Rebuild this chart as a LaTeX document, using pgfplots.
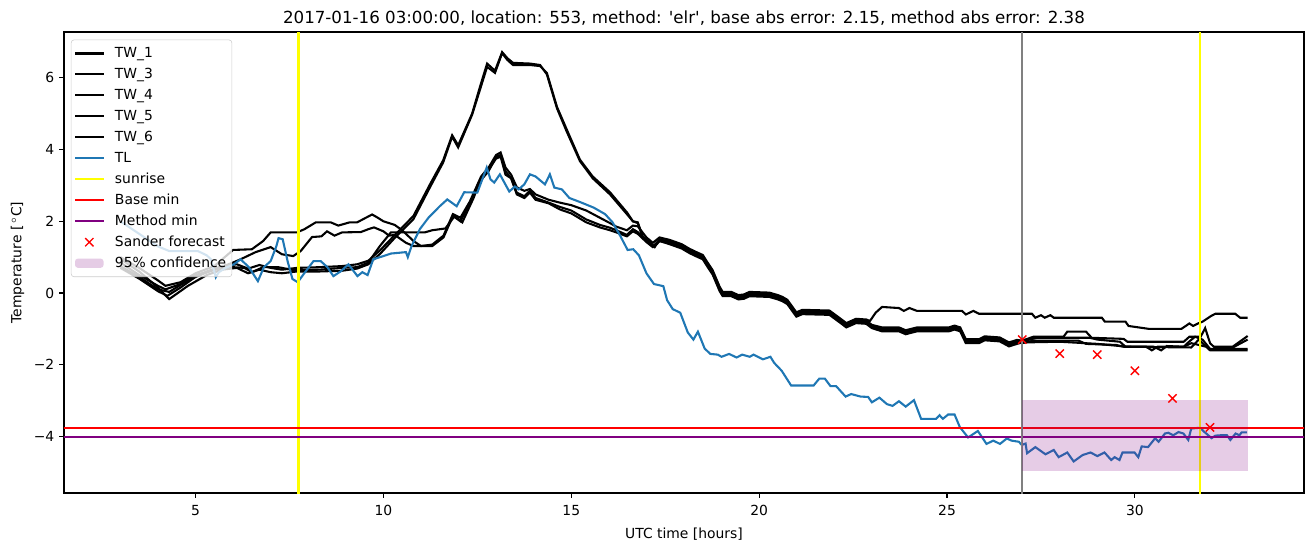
\documentclass[border=0pt]{standalone}
\usepackage{fontspec}
\setmainfont{DejaVu Sans}
\usepackage{pgfplots}
\pgfplotsset{compat=1.18}
\definecolor{tabblue}{RGB}{31,119,180}
\definecolor{myyellow}{RGB}{255,255,0}
\definecolor{myred}{RGB}{255,0,0}
\definecolor{mypurple}{RGB}{128,0,128}
\definecolor{mygray}{RGB}{128,128,128}
\definecolor{legendgray}{RGB}{204,204,204}
\pgfplotsset{
  mylinelegend/.style={legend image code/.code={\draw[mark repeat=2,mark phase=2,##1] plot coordinates {(0pt,0pt) (10.25pt,0pt) (20.5pt,0pt)};}},
  myarealegend/.style={legend image code/.code={\fill[##1] (0pt,-3.3pt) rectangle (20.5pt,3.3pt);}},
}
\begin{document}
\begin{tikzpicture}
\path[use as bounding box] (-46.08pt,-38.88pt) rectangle (899.28pt,354.96pt);
\begin{axis}[
  at={(0,0)}, anchor=south west,
  width=892.8pt, height=331.9pt, scale only axis,
  xmin=1.5, xmax=34.5, ymin=-5.58, ymax=7.28,
  axis line style={line width=0.8pt},
  tick align=outside, major tick length=3.5pt,
  every tick/.style={line width=0.8pt, black},
  xtick pos=bottom, ytick pos=left,
  xtick={5,10,15,20,25,30},
  ytick={-4,-2,0,2,4,6},
  yticklabels={−4,−2,0,2,4,6},
  /pgf/number format/assume math mode=true,
  tick label style={font=\fontsize{10}{12}\selectfont},
  xticklabel style={yshift=-2pt},
  xlabel={UTC time [hours]},
  ylabel={Temperature [\,$^\circ$C]},
  label style={font=\fontsize{10}{12}\selectfont},
  xlabel style={yshift=-1.5pt},
  title={2017-01-16 03:00:00, location: 553, method: \textquotesingle elr\textquotesingle, base abs error: 2.15, method abs error: 2.38},
  title style={font=\fontsize{12}{14}\selectfont, yshift=-4.5pt},
  legend cell align=left,
  mylinelegend,
  legend style={at={(0,1)}, anchor=north west, xshift=5pt, yshift=-5.5pt,
    draw=legendgray, fill=white, fill opacity=0.8, text opacity=1, rounded corners=2pt,
    font=\fontsize{10}{12}\selectfont, row sep=1.6pt, column sep=5.5pt, inner xsep=2pt, inner ysep=3pt,
    nodes={inner sep=2pt, text height=7.5pt, text depth=2pt}},
  every axis plot/.append style={line width=1.5pt},
]
% TW_1
\addplot[black] coordinates {(3.0,1.0)(3.5,0.7)(4.0,0.35)(4.2,0.2)(4.6,0.3)(5.0,0.55)(5.5,0.75)(6.0,1.2)(6.5,1.22)(6.8,1.45)(7.0,1.69)(7.7,1.69)(7.9,1.78)(8.2,1.97)(8.6,1.97)(8.8,1.88)(9.1,1.97)(9.3,1.97)(9.7,2.19)(9.85,2.1)(10.0,2.0)(10.3,1.9)(10.5,1.75)(10.8,1.45)(11.0,1.31)(11.3,1.35)(11.6,1.6)(11.85,2.2)(12.05,2.1)(12.3,2.55)(12.6,3.25)(12.8,3.5)(13.0,3.85)(13.12,3.92)(13.25,3.5)(13.4,3.3)(13.55,2.95)(13.75,2.85)(13.9,2.9)(14.05,2.75)(14.4,2.6)(14.7,2.52)(15.0,2.45)(15.4,2.3)(15.76,2.1)(16.03,1.95)(16.2,1.85)(16.48,1.75)(16.64,1.88)(16.77,1.86)(17.0,1.55)(17.17,1.4)(17.35,1.55)(17.62,1.48)(17.94,1.36)(18.15,1.23)(18.33,1.14)(18.5,1.06)(18.62,0.86)(18.76,0.64)(18.95,0.17)(19.03,0.03)(19.26,0.03)(19.45,-0.06)(19.6,-0.04)(19.74,0.03)(20.27,0.01)(20.5,-0.06)(20.62,-0.11)(20.75,-0.19)(20.99,-0.54)(21.15,-0.47)(21.87,-0.49)(22.13,-0.69)(22.32,-0.84)(22.58,-0.72)(22.85,-0.74)(22.95,-0.78)(23.1,-0.55)(23.27,-0.39)(23.72,-0.42)(23.85,-0.5)(24.0,-0.42)(24.2,-0.5)(25.4,-0.5)(25.5,-0.6)(25.7,-0.5)(25.85,-0.58)(27.26,-0.58)(27.35,-0.69)(27.5,-0.62)(27.6,-0.69)(27.75,-0.62)(27.84,-0.69)(29.12,-0.69)(29.2,-0.8)(29.75,-0.8)(29.83,-0.92)(30.36,-1.0)(31.24,-1.0)(31.45,-0.85)(31.55,-0.92)(31.68,-0.85)(31.8,-0.8)(32.03,-0.64)(32.14,-0.58)(32.67,-0.58)(32.8,-0.69)(33.0,-0.69)};
\addlegendentry{TW\_1}
% TW_3
\addplot[black] coordinates {(3.0,0.85)(3.5,0.5)(4.0,0.2)(4.2,0.1)(4.6,0.25)(5.0,0.5)(5.5,0.65)(6.0,0.85)(6.2,0.94)(6.6,1.14)(7.0,1.28)(7.3,1.08)(7.6,1.03)(7.8,1.17)(8.1,1.56)(8.35,1.58)(8.5,1.72)(8.7,1.6)(8.9,1.69)(9.4,1.7)(9.6,1.78)(9.75,1.83)(10.0,1.72)(10.15,1.6)(10.3,1.62)(10.6,1.4)(10.8,1.31)(11.3,1.31)(11.6,1.55)(11.85,2.15)(12.05,2.0)(12.3,2.5)(12.6,3.15)(12.8,3.4)(13.0,3.8)(13.12,3.85)(13.25,3.4)(13.4,3.2)(13.55,2.8)(13.75,2.7)(13.9,2.85)(14.05,2.65)(14.4,2.52)(14.7,2.4)(15.0,2.3)(15.4,2.05)(15.76,1.9)(16.03,1.82)(16.2,1.75)(16.48,1.62)(16.64,1.78)(16.77,1.7)(17.0,1.45)(17.17,1.3)(17.35,1.48)(17.62,1.45)(17.94,1.33)(18.15,1.2)(18.33,1.11)(18.5,1.03)(18.62,0.83)(18.76,0.61)(18.95,0.14)(19.03,0.0)(19.26,0.0)(19.45,-0.09)(19.6,-0.07)(19.74,0.0)(20.27,-0.02)(20.5,-0.09)(20.62,-0.14)(20.75,-0.22)(20.99,-0.57)(21.15,-0.5)(21.87,-0.52)(22.13,-0.72)(22.32,-0.87)(22.58,-0.75)(22.85,-0.77)(23.0,-0.89)(23.27,-0.96)(23.72,-0.96)(23.9,-1.04)(24.2,-0.96)(25.05,-0.96)(25.2,-0.91)(25.35,-0.96)(25.5,-1.29)(25.85,-1.29)(26.0,-1.21)(26.4,-1.24)(26.65,-1.38)(26.86,-1.31)(27.0,-1.33)(27.3,-1.22)(28.1,-1.22)(28.2,-1.08)(28.7,-1.08)(28.85,-1.25)(29.7,-1.28)(29.8,-1.36)(31.3,-1.36)(31.45,-1.22)(31.75,-1.22)(31.87,-0.98)(32.0,-1.4)(32.1,-1.5)(32.6,-1.5)(33.0,-1.2)};
\addlegendentry{TW\_3}
% TW_4
\addplot[black] coordinates {(3.0,0.7)(3.5,0.4)(4.0,0.05)(4.25,-0.08)(4.6,0.15)(5.0,0.45)(5.5,0.65)(6.0,0.72)(6.3,0.7)(6.5,0.58)(6.8,0.72)(7.2,0.72)(7.6,0.64)(8.3,0.65)(8.9,0.7)(9.3,0.72)(9.6,0.85)(9.9,1.3)(10.2,1.69)(11.1,1.69)(11.3,1.75)(11.65,1.8)(11.9,2.15)(12.1,1.97)(12.4,2.65)(12.6,3.2)(12.8,3.44)(13.0,3.75)(13.12,3.8)(13.25,3.3)(13.4,3.2)(13.55,2.75)(13.75,2.65)(13.9,2.8)(14.05,2.6)(14.4,2.5)(14.7,2.33)(15.0,2.22)(15.4,1.97)(15.76,1.83)(16.03,1.75)(16.2,1.69)(16.48,1.58)(16.64,1.72)(16.77,1.65)(17.0,1.42)(17.17,1.28)(17.35,1.45)(17.62,1.39)(17.94,1.27)(18.15,1.14)(18.33,1.05)(18.5,0.97)(18.62,0.77)(18.76,0.55)(18.95,0.08)(19.03,-0.06)(19.26,-0.06)(19.45,-0.15)(19.6,-0.13)(19.74,-0.06)(20.27,-0.08)(20.5,-0.15)(20.62,-0.2)(20.75,-0.28)(20.99,-0.63)(21.15,-0.56)(21.87,-0.58)(22.13,-0.78)(22.32,-0.93)(22.58,-0.81)(22.85,-0.83)(23.0,-0.95)(23.27,-1.03)(23.72,-1.03)(23.9,-1.11)(24.2,-1.03)(25.05,-1.03)(25.2,-0.98)(25.35,-1.03)(25.5,-1.36)(25.85,-1.36)(26.0,-1.28)(26.4,-1.31)(26.65,-1.45)(26.86,-1.38)(27.0,-1.35)(27.4,-1.25)(28.8,-1.25)(29.0,-1.3)(29.6,-1.36)(29.75,-1.5)(30.5,-1.5)(30.7,-1.6)(30.85,-1.48)(31.3,-1.5)(31.45,-1.35)(31.6,-1.22)(31.8,-1.3)(32.0,-1.56)(33.0,-1.56)};
\addlegendentry{TW\_4}
% TW_5
\addplot[black] coordinates {(3.0,0.95)(3.5,0.6)(4.0,0.15)(4.3,-0.17)(4.8,0.2)(5.3,0.5)(5.7,0.65)(6.1,0.7)(6.4,0.55)(6.7,0.65)(7.0,0.58)(7.3,0.55)(7.7,0.6)(8.3,0.6)(8.9,0.62)(9.3,0.68)(9.6,0.8)(9.92,1.1)(10.27,1.5)(10.8,2.06)(11.25,2.97)(11.59,3.64)(11.83,4.36)(11.99,4.06)(12.36,4.97)(12.57,5.67)(12.76,6.31)(12.97,6.14)(13.16,6.69)(13.3,6.5)(13.45,6.36)(13.9,6.36)(14.17,6.33)(14.35,6.14)(14.62,5.19)(14.88,4.56)(15.23,3.72)(15.57,3.25)(16.03,2.81)(16.48,2.25)(16.64,2.0)(16.77,1.97)(16.9,1.58)(17.1,1.4)(17.22,1.28)(17.35,1.5)(17.62,1.42)(17.94,1.3)(18.15,1.17)(18.33,1.08)(18.5,1.0)(18.62,0.8)(18.76,0.58)(18.95,0.11)(19.03,-0.03)(19.26,-0.03)(19.45,-0.12)(19.6,-0.1)(19.74,-0.03)(20.27,-0.05)(20.5,-0.12)(20.62,-0.17)(20.75,-0.25)(20.99,-0.6)(21.15,-0.53)(21.87,-0.55)(22.13,-0.75)(22.32,-0.9)(22.58,-0.78)(22.85,-0.8)(23.0,-0.92)(23.27,-1.0)(23.72,-1.0)(23.9,-1.08)(24.2,-1.0)(25.05,-1.0)(25.2,-0.95)(25.35,-1.0)(25.5,-1.33)(25.85,-1.33)(26.0,-1.25)(26.4,-1.28)(26.65,-1.42)(26.86,-1.35)(27.0,-1.4)(27.3,-1.33)(28.5,-1.33)(28.7,-1.42)(29.5,-1.45)(29.7,-1.5)(30.3,-1.5)(30.45,-1.6)(30.6,-1.5)(31.3,-1.5)(31.5,-1.4)(31.9,-1.5)(32.0,-1.6)(33.0,-1.6)};
\addlegendentry{TW\_5}
% TW_6
\addplot[black] coordinates {(3.0,0.75)(3.5,0.45)(4.0,0.1)(4.3,0.03)(4.8,0.35)(5.3,0.6)(5.7,0.75)(6.1,0.8)(6.4,0.68)(6.7,0.78)(7.0,0.7)(7.3,0.65)(7.7,0.7)(8.3,0.72)(8.9,0.75)(9.3,0.8)(9.6,0.9)(9.92,1.2)(10.27,1.58)(10.8,2.15)(11.25,3.05)(11.59,3.7)(11.83,4.4)(11.99,4.12)(12.36,5.0)(12.57,5.75)(12.76,6.4)(12.97,6.2)(13.16,6.72)(13.3,6.55)(13.45,6.42)(13.9,6.4)(14.17,6.36)(14.35,6.1)(14.62,5.15)(14.88,4.5)(15.23,3.68)(15.57,3.2)(16.03,2.75)(16.48,2.2)(16.64,2.0)(16.77,1.95)(16.9,1.55)(17.1,1.38)(17.22,1.3)(17.35,1.45)(17.62,1.36)(17.94,1.24)(18.15,1.11)(18.33,1.02)(18.5,0.94)(18.62,0.74)(18.76,0.52)(18.95,0.05)(19.03,-0.09)(19.26,-0.09)(19.45,-0.18)(19.6,-0.16)(19.74,-0.09)(20.27,-0.11)(20.5,-0.18)(20.62,-0.23)(20.75,-0.31)(20.99,-0.66)(21.15,-0.59)(21.87,-0.61)(22.13,-0.81)(22.32,-0.96)(22.58,-0.84)(22.85,-0.86)(23.0,-0.98)(23.27,-1.07)(23.72,-1.07)(23.9,-1.15)(24.2,-1.07)(25.05,-1.07)(25.2,-1.02)(25.35,-1.07)(25.5,-1.4)(25.85,-1.4)(26.0,-1.32)(26.4,-1.35)(26.65,-1.49)(26.86,-1.42)(27.0,-1.38)(28.0,-1.36)(29.0,-1.42)(29.8,-1.5)(31.5,-1.52)(31.7,-1.3)(31.85,-1.45)(32.0,-1.58)(32.5,-1.58)(33.0,-1.3)};
\addlegendentry{TW\_6}
% TL
\addplot[tabblue] coordinates {(3.0,2.0)(3.5,1.65)(4.0,1.3)(4.3,1.17)(4.53,1.17)(5.06,1.17)(5.3,1.05)(5.41,0.94)(5.54,0.44)(5.62,0.58)(5.8,0.7)(6.02,0.8)(6.2,0.94)(6.42,0.72)(6.66,0.33)(6.82,0.72)(7.0,0.89)(7.15,1.3)(7.21,1.53)(7.32,1.5)(7.45,0.89)(7.58,0.39)(7.72,0.3)(7.88,0.53)(8.14,0.89)(8.33,0.89)(8.51,0.72)(8.67,0.47)(8.86,0.6)(9.07,0.8)(9.31,0.47)(9.44,0.58)(9.58,0.5)(9.73,0.94)(10.0,1.03)(10.2,1.1)(10.6,1.14)(10.65,1.0)(10.75,1.31)(10.97,1.78)(11.2,2.1)(11.5,2.42)(11.7,2.61)(11.95,2.42)(12.15,2.81)(12.5,2.8)(12.75,3.5)(12.85,3.17)(12.95,3.08)(13.1,3.31)(13.35,2.83)(13.5,2.97)(13.6,2.89)(13.75,3.03)(13.9,3.31)(14.05,3.25)(14.3,3.03)(14.43,3.31)(14.55,2.94)(14.75,2.89)(14.95,2.65)(15.25,2.53)(15.6,2.38)(15.9,2.2)(16.1,1.97)(16.3,1.6)(16.5,1.2)(16.65,1.22)(16.8,1.05)(17.0,0.55)(17.2,0.25)(17.45,0.19)(17.55,-0.2)(17.7,-0.45)(17.9,-0.55)(18.1,-1.1)(18.25,-1.3)(18.37,-1.08)(18.55,-1.55)(18.7,-1.7)(18.9,-1.72)(19.0,-1.78)(19.2,-1.7)(19.4,-1.8)(19.55,-1.72)(19.75,-1.78)(19.85,-1.72)(20.1,-1.85)(20.3,-1.78)(20.4,-1.95)(20.6,-2.17)(20.85,-2.58)(21.45,-2.58)(21.6,-2.39)(21.75,-2.39)(21.9,-2.6)(22.05,-2.6)(22.3,-2.89)(22.45,-2.82)(22.7,-2.89)(22.9,-2.9)(23.0,-3.05)(23.2,-2.92)(23.4,-3.1)(23.55,-3.15)(23.72,-3.02)(23.9,-3.17)(24.12,-2.99)(24.31,-3.51)(24.71,-3.51)(24.8,-3.41)(24.89,-3.51)(25.03,-3.39)(25.2,-3.39)(25.34,-3.74)(25.56,-4.03)(25.82,-3.85)(26.05,-4.21)(26.23,-4.12)(26.41,-4.21)(26.59,-4.06)(26.72,-4.12)(26.91,-4.15)(26.99,-4.24)(27.09,-4.2)(27.13,-4.47)(27.35,-4.3)(27.62,-4.5)(27.84,-4.38)(27.97,-4.58)(28.2,-4.45)(28.37,-4.7)(28.61,-4.52)(28.82,-4.45)(29.0,-4.55)(29.19,-4.45)(29.37,-4.66)(29.46,-4.58)(29.59,-4.66)(29.67,-4.45)(29.99,-4.45)(30.09,-4.58)(30.18,-4.28)(30.35,-4.3)(30.54,-4.05)(30.63,-4.15)(30.8,-3.92)(30.89,-3.9)(31.02,-3.97)(31.16,-3.88)(31.29,-3.92)(31.42,-4.1)(31.5,-3.78)(31.74,-3.76)(31.82,-3.85)(32.04,-4.05)(32.14,-3.98)(32.27,-3.97)(32.45,-3.97)(32.54,-4.1)(32.68,-3.92)(32.78,-3.97)(32.84,-3.89)(32.98,-3.89)};
\addlegendentry{TL}
% sunrise
\addplot[myyellow] coordinates {(7.74,-6) (7.74,8)};
\addlegendentry{sunrise}
\addplot[myyellow, forget plot] coordinates {(31.72,-6) (31.72,8)};
% base min / method min
\addplot[myred] coordinates {(0,-3.77) (36,-3.77)};
\addlegendentry{Base min}
\addplot[mypurple] coordinates {(0,-4.02) (36,-4.02)};
\addlegendentry{Method min}
\addplot[mygray, forget plot] coordinates {(27,-6) (27,8)};
% Sander forecast
\addplot[only marks, mark=x, mark size=4.2pt, myred, mark options={line width=1pt}] coordinates {(27,-1.3)(28,-1.69)(29,-1.72)(30,-2.17)(31,-2.94)(32,-3.75)};
\addlegendentry{Sander forecast}
% 95% confidence
\addplot[fill=mypurple, fill opacity=0.2, draw=none, myarealegend]
  coordinates {(27,-4.96) (33,-4.96) (33,-2.99) (27,-2.99)} -- cycle;
\addlegendentry{95\% confidence}
\end{axis}
\end{tikzpicture}
\end{document}
